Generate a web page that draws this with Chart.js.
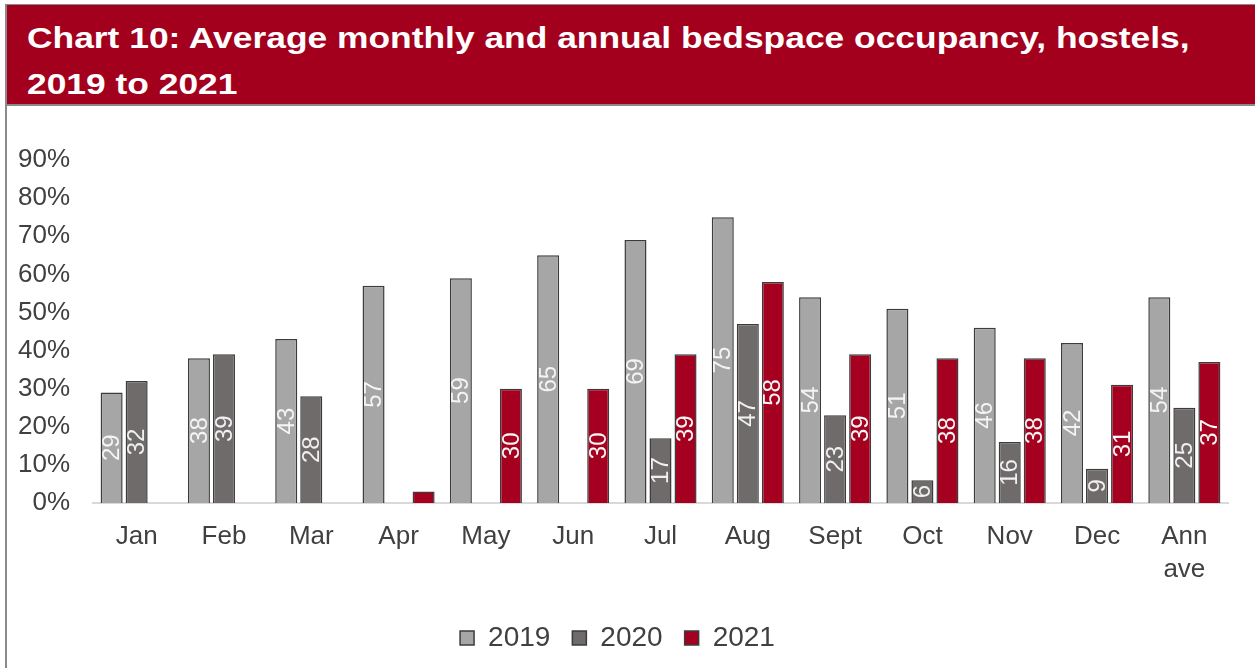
<!DOCTYPE html>
<html>
<head>
<meta charset="utf-8">
<script src="https://cdn.jsdelivr.net/npm/chart.js@4/dist/chart.umd.min.js"></script>
<style>
  body { margin: 0; background: #fff; font-family: 'Liberation Sans', Arial, sans-serif; }
  #page { position: relative; width: 1255px; height: 668px; overflow: hidden; background: #fff; }
  #frame { position: absolute; left: 5px; top: 4px; width: 2px; height: 664px; background: #8a8a8a; }
  #title {
    position: absolute; left: 7px; top: 4px; width: 1248px; height: 102px;
    background: #a3001e; border-top: 1px solid #8a8a8a; border-bottom: 2px solid #8a8a8a;
    color: #fff; font-weight: bold; font-size: 29px; line-height: 46px;
    box-sizing: border-box; padding: 10px 0 0 20px; overflow: hidden;
  }
  #title span { display: inline-block; transform: scaleX(1.22); transform-origin: left center; white-space: nowrap; }
  #chartBox { position: absolute; left: 7px; top: 108px; width: 1248px; height: 564px; }
</style>
</head>
<body>
<div id="page">
  <div id="frame"></div>
  <div id="title"><span>Chart 10: Average monthly and annual bedspace occupancy, hostels,<br>2019 to 2021</span></div>
  <div id="chartBox"><canvas id="occChart" width="1248" height="564"></canvas></div>
</div>
<script>
// 월별 라벨
const categories = ['Jan', 'Feb', 'Mar', 'Apr', 'May', 'Jun', 'Jul', 'Aug', 'Sept', 'Oct', 'Nov', 'Dec', ['Ann', 'ave']];
const seriesNames = ['2019', '2020', '2021'];
const values2019 = [29, 38, 43, 57, 59, 65, 69, 75, 54, 51, 46, 42, 54];
const values2020 = [32, 39, 28, null, null, null, 17, 47, 23, 6, 16, 9, 25];
const values2021 = [null, null, null, 3, 30, 30, 39, 58, 39, 38, 38, 31, 37];
const yTicks = [0, 10, 20, 30, 40, 50, 60, 70, 80, 90];

const barColors = ['#a6a6a6', '#706b6b', '#a5001f'];
const labelColors = ['#f4f4f4', '#f0f0f0', '#f6f6f6'];
const fontFamily = "'Liberation Sans', Arial, sans-serif";

// 막대 안쪽 세로 숫자 라벨
const barLabelPlugin = {
    id: 'barLabels',
    afterDatasetsDraw(chart) {
        const ctx = chart.ctx;
        chart.data.datasets.forEach((ds, i) => {
            const meta = chart.getDatasetMeta(i);
            meta.data.forEach((bar, j) => {
                const v = ds.data[j];
                if (v === null || v < 5) return;
                ctx.save();
                ctx.translate(bar.x, (bar.y + bar.base) / 2);
                ctx.rotate(-Math.PI / 2);
                ctx.font = '24px ' + fontFamily;
                ctx.fillStyle = labelColors[i];
                ctx.textAlign = 'center';
                ctx.textBaseline = 'middle';
                ctx.fillText(String(v), 0, 1);
                ctx.restore();
            });
        });
    }
};

const datasets = [values2019, values2020, values2021].map((vals, i) => ({
    label: seriesNames[i],
    data: vals,
    backgroundColor: barColors[i],
    borderColor: '#3c3c3c',
    borderWidth: 1.5,
    categoryPercentage: 0.86,
    barPercentage: 0.88
}));

const ctx = document.getElementById('occChart').getContext('2d');
new Chart(ctx, {
    type: 'bar',
    data: { labels: categories, datasets: datasets },
    plugins: [barLabelPlugin],
    options: {
        responsive: false,
        animation: false,
        layout: { padding: { top: 52, right: 27, bottom: 10, left: 0 } },
        plugins: {
            legend: {
                position: 'bottom',
                labels: {
                    boxWidth: 14,
                    boxHeight: 14,
                    padding: 22,
                    color: '#404040',
                    font: { family: fontFamily, size: 28 }
                }
            },
            tooltip: { enabled: false }
        },
        scales: {
            x: {
                grid: { display: false },
                border: { display: true, color: '#d9d9d9', width: 2 },
                ticks: {
                    color: '#404040',
                    padding: 10,
                    maxRotation: 0,
                    font: { family: fontFamily, size: 26, lineHeight: 1.25 }
                },
                afterFit(scale) { scale.height = 99; }
            },
            y: {
                min: 0,
                max: 90,
                grid: { display: false },
                border: { display: false },
                afterBuildTicks(scale) { scale.ticks = yTicks.map(v => ({ value: v })); },
                ticks: {
                    color: '#404040',
                    padding: 15,
                    font: { family: fontFamily, size: 26 },
                    callback: v => v + '%'
                },
                afterFit(scale) { scale.width = 86; }
            }
        }
    }
});
</script>
</body>
</html>
